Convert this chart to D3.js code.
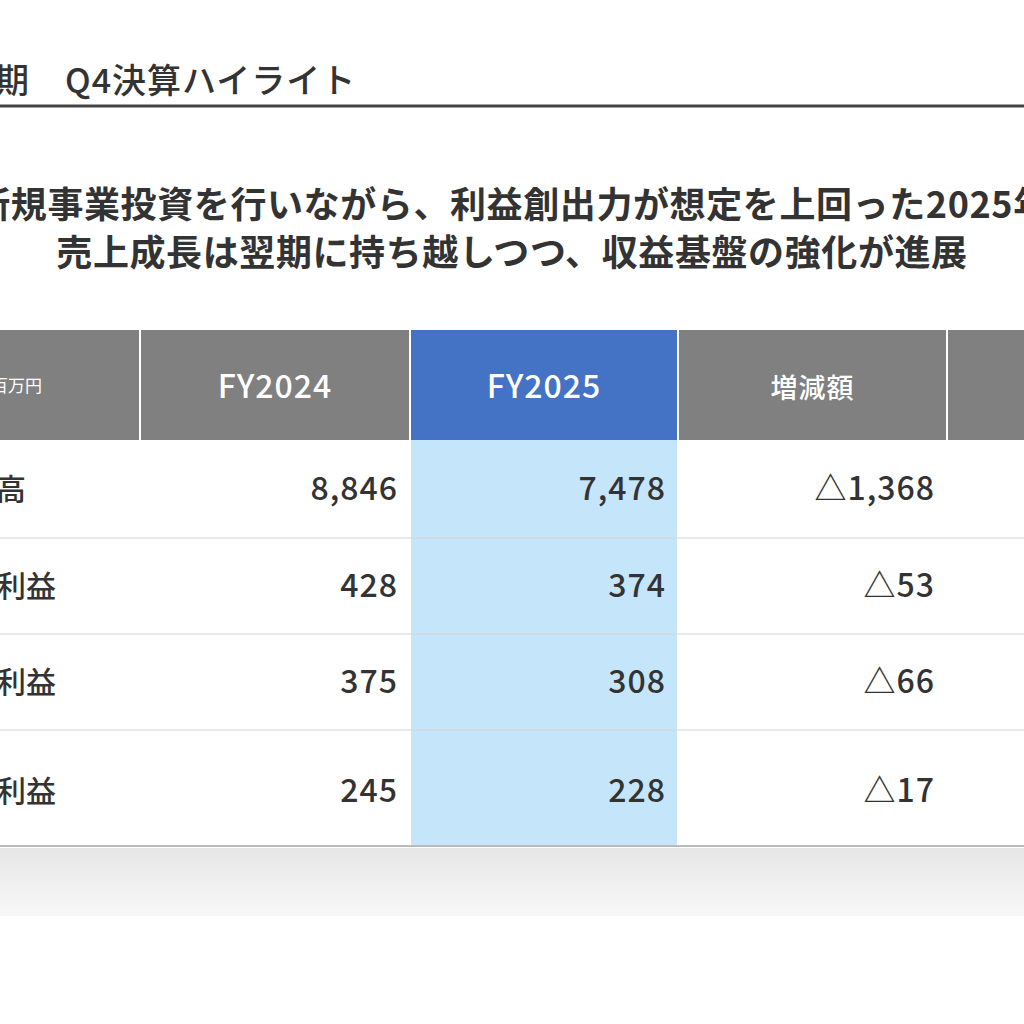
<!DOCTYPE html>
<html><head><meta charset="utf-8">
<script src="https://cdn.jsdelivr.net/npm/d3@7"></script>
<style>body{margin:0;background:#fff;overflow:hidden}svg{font-family:"Noto Sans CJK JP","Noto Sans",sans-serif}</style>
</head><body>
<svg id="c" width="1024" height="1024"></svg>
<script>
// data
const COLUMNS = ["単位：百万円", "FY2024", "FY2025", "増減額", "増減率"];
const ROW_LABELS = ["売上高", "営業利益", "経常利益", "当期利益"];
const FY2024 = ["8,846", "428", "375", "245"];
const FY2025 = ["7,478", "374", "308", "228"];
const DIFF = ["△1,368", "△53", "△66", "△17"];

const COL_X = [-140, 140, 410, 678, 947, 1220];   // column edges
const HEAD = {top: 330, bottom: 440};
const ROW_Y = [440, 538, 634, 730, 846];

const svg = d3.select("#c");

// title + rule
svg.append("text").attr("x", -40).attr("y", 93).attr("font-size", 34).attr("font-weight", 500)
  .attr("fill", "#333").attr("letter-spacing", 1).text("通期　Q4決算ハイライト");
svg.append("line").attr("x1", 0).attr("x2", 1024).attr("y1", 106).attr("y2", 106)
  .attr("stroke", "#444").attr("stroke-width", 3);

// subtitle
[["新規事業投資を行いながら、利益創出力が想定を上回った2025年", 218],
 ["売上成長は翌期に持ち越しつつ、収益基盤の強化が進展", 266]].forEach(([t, y]) => {
  svg.append("text").attr("x", 512).attr("y", y).attr("text-anchor", "middle")
    .attr("font-size", 36).attr("font-weight", 700).attr("fill", "#333").attr("letter-spacing", 0.6).text(t);
});

// header cells
const hdr = svg.append("g");
COLUMNS.forEach((c, i) => {
  hdr.append("rect").attr("x", COL_X[i] + 1).attr("y", HEAD.top)
    .attr("width", COL_X[i + 1] - COL_X[i] - 2).attr("height", HEAD.bottom - HEAD.top)
    .attr("fill", i === 2 ? "#4472C4" : "#808080");
  if (i === 0) {
    hdr.append("text").attr("x", 42).attr("y", 392).attr("text-anchor", "end")
      .attr("font-size", 17).attr("fill", "#fff").text(c);
  } else {
    hdr.append("text").attr("x", (COL_X[i] + COL_X[i + 1]) / 2).attr("y", 398)
      .attr("text-anchor", "middle").attr("font-size", i < 3 ? 32 : 27)
      .attr("font-weight", 500).attr("fill", "#fff").attr("letter-spacing", 1).text(c);
  }
});

// highlighted column
svg.append("rect").attr("x", COL_X[2] + 1).attr("y", HEAD.bottom)
  .attr("width", COL_X[3] - COL_X[2] - 2).attr("height", ROW_Y[4] - HEAD.bottom).attr("fill", "#C5E5FB");

// shadow below table
const grad = svg.append("defs").append("linearGradient").attr("id", "sh").attr("x1", 0).attr("x2", 0).attr("y1", 0).attr("y2", 1);
grad.append("stop").attr("offset", 0).attr("stop-color", "#e6e6e6");
grad.append("stop").attr("offset", 1).attr("stop-color", "#f8f8f8");
svg.append("rect").attr("x", 0).attr("y", 848).attr("width", 1024).attr("height", 68).attr("fill", "url(#sh)");

// rows
ROW_LABELS.forEach((lab, r) => {
  const y0 = ROW_Y[r], y1 = ROW_Y[r + 1];
  const ty = r === 3 ? 802 : (y0 + y1) / 2 + 11;
  svg.append("line").attr("x1", 0).attr("x2", 1024).attr("y1", y1).attr("y2", y1)
    .attr("stroke", r === 3 ? "#bbb" : "#d4d4d4").attr("stroke-width", r === 3 ? 2 : 1);
  svg.append("text").attr("x", -64).attr("y", ty).attr("font-size", 30).attr("font-weight", 500)
    .attr("fill", "#333").text(lab);
  [FY2024, FY2025, DIFF].forEach((arr, k) => {
    svg.append("text").attr("x", COL_X[k + 2] - 12).attr("y", ty).attr("text-anchor", "end")
      .attr("font-size", 32).attr("font-weight", 500).attr("fill", "#333").attr("letter-spacing", 1).text(arr[r]);
  });
});
</script>
</body></html>
